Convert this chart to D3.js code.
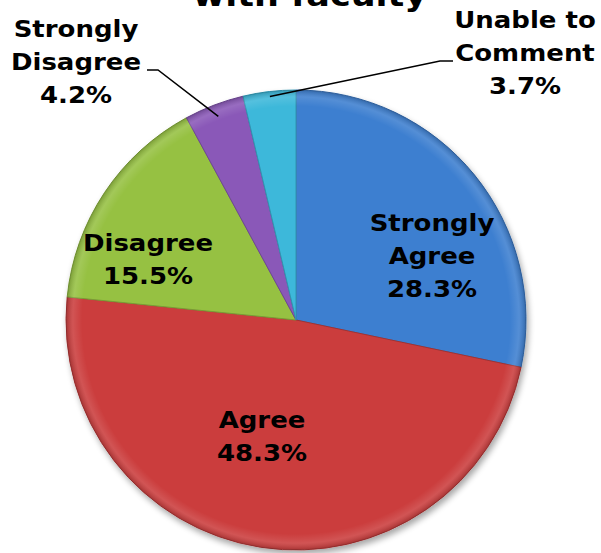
<!DOCTYPE html>
<html>
<head>
<meta charset="utf-8">
<script src="https://cdn.jsdelivr.net/npm/d3@7"></script>
<style>
  html, body { margin: 0; padding: 0; background: #fff; }
  svg { display: block; }
  text { font-family: "DejaVu Sans", Verdana, sans-serif; font-weight: bold; fill: #000; }
</style>
</head>
<body>
<svg id="chart" width="601" height="553"></svg>
<script>
const categories = ["Strongly Agree", "Agree", "Disagree", "Strongly Disagree", "Unable to Comment"];
const values = [28.3, 48.3, 15.5, 4.2, 3.7];
const labelLines = [["Strongly", "Agree", "28.3%"], ["Agree", "48.3%"], ["Disagree", "15.5%"], ["Strongly", "Disagree", "4.2%"], ["Unable to", "Comment", "3.7%"]];
const colors = ["#3e7fd0", "#cb3e3e", "#96c143", "#8a58b8", "#3cb8da"];
const titleText = "with faculty";

const svg = d3.select("#chart");
const cx = 296, cy = 320, r = 230;
const stretch = 1.13;

const defs = svg.append("defs");
const shadow = defs.append("filter").attr("id", "shadow").attr("x", "-10%").attr("y", "-10%").attr("width", "120%").attr("height", "120%");
shadow.append("feGaussianBlur").attr("in", "SourceAlpha").attr("stdDeviation", 3);
shadow.append("feOffset").attr("dx", 2).attr("dy", 4).attr("result", "b");
shadow.append("feComponentTransfer").append("feFuncA").attr("type", "linear").attr("slope", 0.35);
const merge = shadow.append("feMerge");
merge.append("feMergeNode");
merge.append("feMergeNode").attr("in", "SourceGraphic");

const rg = defs.append("radialGradient").attr("id", "bevel").attr("gradientUnits", "userSpaceOnUse")
  .attr("cx", cx).attr("cy", cy).attr("r", r);
rg.append("stop").attr("offset", "0%").attr("stop-color", "#fff").attr("stop-opacity", 0);
rg.append("stop").attr("offset", "93%").attr("stop-color", "#fff").attr("stop-opacity", 0);
rg.append("stop").attr("offset", "97%").attr("stop-color", "#fff").attr("stop-opacity", 0.12);
rg.append("stop").attr("offset", "100%").attr("stop-color", "#000").attr("stop-opacity", 0.18);

// title (cut off at top, as in the reference)
svg.append("g").attr("transform", `translate(310,0) scale(${stretch},1)`)
  .append("text").attr("x", 0).attr("y", 6).attr("text-anchor", "middle")
  .style("font-size", "31px").text(titleText);

const data = categories.map((c, i) => ({ cat: c, value: values[i], lines: labelLines[i], color: colors[i] }));
const pie = d3.pie().value(d => d.value).sort(null);
const arcs = pie(data);
const arc = d3.arc().innerRadius(0).outerRadius(r);

const g = svg.append("g").attr("transform", `translate(${cx},${cy})`);
const gp = g.append("g").attr("filter", "url(#shadow)");
gp.selectAll("path.slice").data(arcs).enter().append("path").attr("class", "slice")
  .attr("d", arc).attr("fill", d => d.data.color)
  .attr("stroke", d => d3.color(d.data.color).darker(0.6)).attr("stroke-width", 1);
svg.append("circle").attr("cx", cx).attr("cy", cy).attr("r", r).attr("fill", "url(#bevel)").attr("pointer-events", "none");

const inside = [
  { i: 0, x: 432, y: 231 },
  { i: 1, x: 262, y: 428 },
  { i: 2, x: 148, y: 251 }
];
const outside = [
  { i: 3, x: 76, y: 37 },
  { i: 4, x: 525, y: 28 }
];
const lh = 33;
function drawLabel(o) {
  const t = svg.append("g").attr("transform", `translate(${o.x},0) scale(${stretch},1)`)
    .append("text").attr("text-anchor", "middle").style("font-size", "23px");
  data[o.i].lines.forEach((ln, k) => {
    t.append("tspan").attr("x", 0).attr("y", o.y + k * lh).text(ln);
  });
}
inside.forEach(drawLabel);
outside.forEach(drawLabel);

function edgePoint(i, rr) {
  const a = (arcs[i].startAngle + arcs[i].endAngle) / 2;
  return [cx + Math.sin(a) * rr, cy - Math.cos(a) * rr];
}
const p3 = edgePoint(3, r - 12);
const p4 = edgePoint(4, r - 5);
const line = d3.line();
svg.append("path").attr("d", line([[147, 70], [158, 70], p3])).attr("fill", "none").attr("stroke", "#000").attr("stroke-width", 1.5);
svg.append("path").attr("d", line([[453, 61], [440, 61], p4])).attr("fill", "none").attr("stroke", "#000").attr("stroke-width", 1.5);
</script>
</body>
</html>
